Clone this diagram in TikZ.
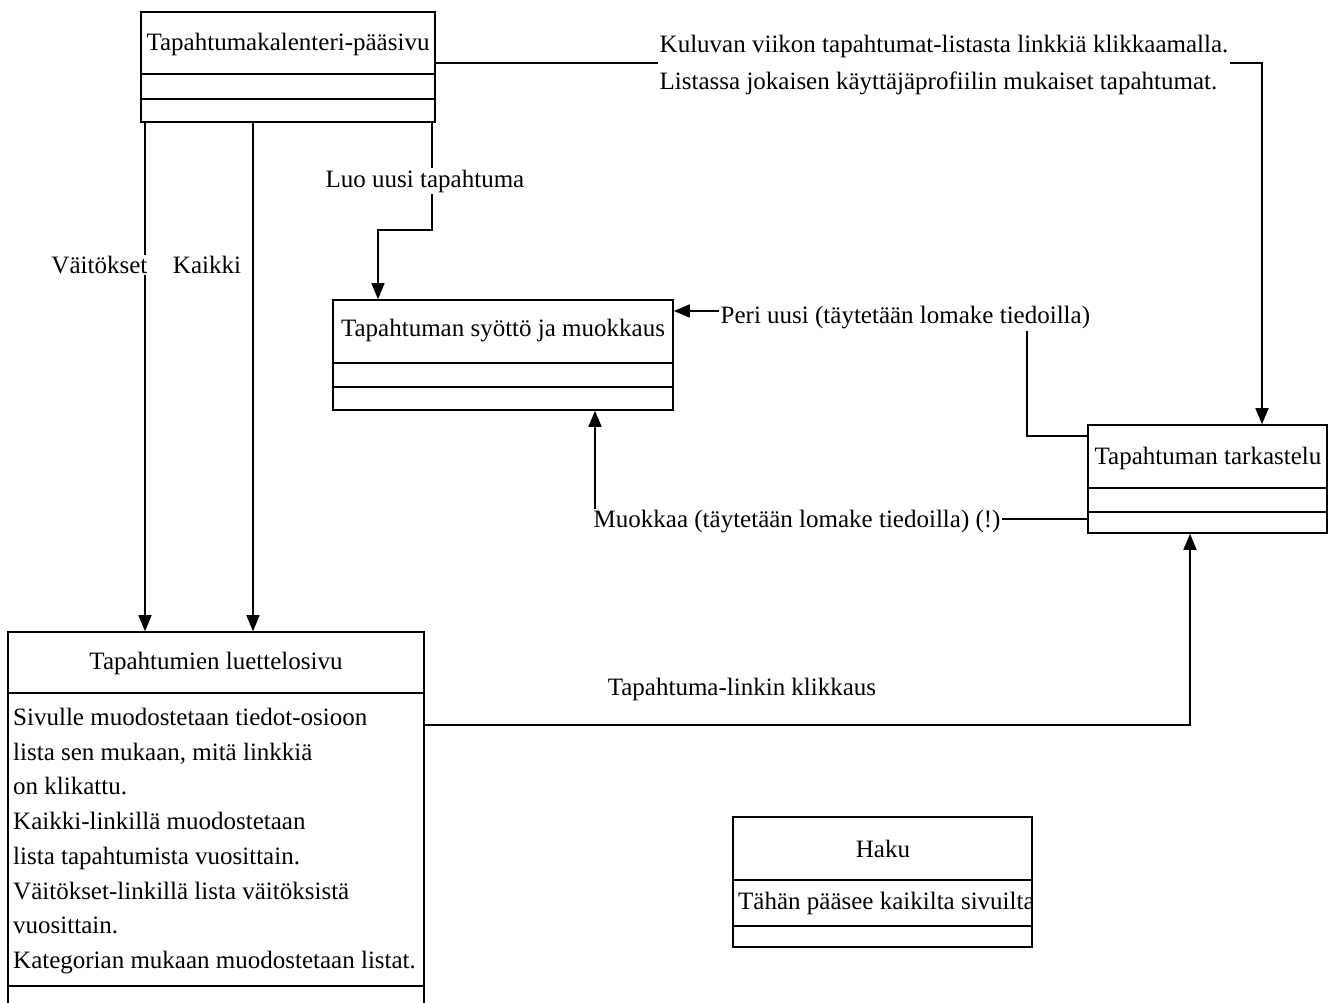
\documentclass[tikz,border=0pt]{standalone}
\usepackage{fontspec}
\setmainfont{Liberation Serif}
\usetikzlibrary{arrows.meta,calc,positioning}
\tikzset{%
	luokka/.style  = {draw, rectangle, line width=1.6pt, inner sep=0pt},
	otsikko/.style = {inner sep=0pt, font=\fontsize{25}{34.7}\selectfont},
	selite/.style  = {fill=white, inner sep=1.5pt, font=\fontsize{25}{37}\selectfont},
	viiva/.style   = {line width=1.6pt},
	arrow/.style   = {line width=1.6pt, -{Triangle[length=16pt,width=13pt]}},
}

\begin{document}
\begin{tikzpicture}[x=1pt,y=-1pt]
	\useasboundingbox (0,0) rectangle (1335,1002);
	
	% luokat
	\node[luokka, minimum width=294pt, minimum height=110pt] (paasivu) at (288,67) {};
	\node[luokka, minimum width=340pt, minimum height=110pt] (syotto) at (503,355) {};
	\node[luokka, minimum width=239pt, minimum height=108pt] (tarkastelu) at (1207.5,479) {};
	\node[luokka, minimum width=416pt, minimum height=380pt] (luettelo) at (216,822) {};
	\node[luokka, minimum width=299pt, minimum height=130pt] (haku) at (882.5,882) {};
	
	% osastot
	\draw[viiva] (paasivu.west |- 0,74) -- (paasivu.east |- 0,74);
	\draw[viiva] (paasivu.west |- 0,99) -- (paasivu.east |- 0,99);
	\draw[viiva] (syotto.west |- 0,363) -- (syotto.east |- 0,363);
	\draw[viiva] (syotto.west |- 0,387) -- (syotto.east |- 0,387);
	\draw[viiva] (tarkastelu.west |- 0,488) -- (tarkastelu.east |- 0,488);
	\draw[viiva] (tarkastelu.west |- 0,512) -- (tarkastelu.east |- 0,512);
	\draw[viiva] (luettelo.west |- 0,693) -- (luettelo.east |- 0,693);
	\draw[viiva] (luettelo.west |- 0,986) -- (luettelo.east |- 0,986);
	\draw[viiva] (haku.west |- 0,880) -- (haku.east |- 0,880);
	\draw[viiva] (haku.west |- 0,926) -- (haku.east |- 0,926);
	
	% otsikot
	\node[otsikko] (paasivuT) at (288,44) {Tapahtumakalenteri-pääsivu};
	\node[otsikko] (syottoT) at (503,331) {Tapahtuman syöttö ja muokkaus};
	\node[otsikko] (tarkasteluT) at (1208,458) {Tapahtuman tarkastelu};
	\node[otsikko] (luetteloT) at (216,663) {Tapahtumien luettelosivu};
	\node[otsikko] (hakuT) at (883,849) {Haku};
	\node[otsikko, anchor=north west, align=left] (luetteloA) at (13,708) {Sivulle muodostetaan tiedot-osioon\\lista sen mukaan, mitä linkkiä\\on klikattu.\\Kaikki-linkillä muodostetaan\\lista tapahtumista vuosittain.\\Väitökset-linkillä lista väitöksistä\\vuosittain.\\Kategorian mukaan muodostetaan listat.};
	\begin{scope}
	\clip (haku.north west) rectangle (haku.south east);
	\node[otsikko, anchor=west] (hakuA) at (738,903) {Tähän pääsee kaikilta sivuilta};
	\end{scope}
	
	% yhteydet
	\node[selite, anchor=west, align=left] (kuluva) at (658,65) {Kuluvan viikon tapahtumat-listasta linkkiä klikkaamalla.\\Listassa jokaisen käyttäjäprofiilin mukaiset tapahtumat.};
	\draw[viiva] (paasivu.east |- 0,63) -- (kuluva.west |- 0,63);
	\draw[arrow] (kuluva.east |- 0,63) -| (tarkastelu.north -| 1262,0);
	
	\draw[arrow] (paasivu.south -| 145,0) -- (luettelo.north -| 145,0);
	\draw[arrow] (paasivu.south -| 253,0) -- (luettelo.north -| 253,0);
	\node[selite, anchor=east] (vaitokset) at (149,265) {Väitökset};
	\node[selite] (kaikki) at (207,265) {Kaikki};
	
	\draw[arrow] (paasivu.south -| 432,0) -- (432,230) -- (378,230) -- (syotto.north -| 378,0);
	\node[selite] (luo) at (425,181) {Luo uusi tapahtuma};
	
	\node[selite, anchor=west] (peri) at (719,318) {Peri uusi (täytetään lomake tiedoilla)};
	\draw[arrow] (peri.west |- 0,311) -- (syotto.east |- 0,311);
	\draw[viiva] (peri.south -| 1027,0) |- (tarkastelu.west |- 0,436);
	
	\node[selite, anchor=west] (muokkaa) at (592,522) {Muokkaa (täytetään lomake tiedoilla) (!)};
	\draw[arrow] (muokkaa.north -| 595,0) -- (syotto.south -| 595,0);
	\draw[viiva] (muokkaa.east |- 0,519) -- (tarkastelu.west |- 0,519);
	
	\draw[arrow] (luettelo.east |- 0,725) -| (tarkastelu.south -| 1190,0);
	\node[selite] (klikkaus) at (742,689) {Tapahtuma-linkin klikkaus};
	
\end{tikzpicture}
\end{document}
